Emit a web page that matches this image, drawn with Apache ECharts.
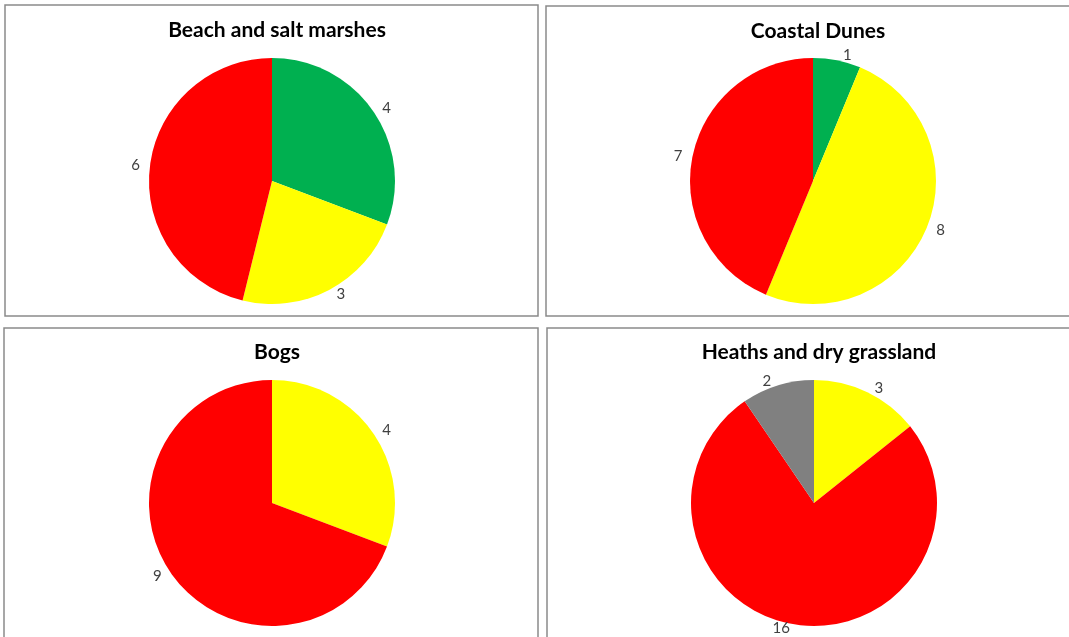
<!DOCTYPE html>
<html><head><meta charset="utf-8">
<script src="https://cdn.jsdelivr.net/npm/echarts@6/dist/echarts.min.js"></script>
<style>html,body{margin:0;padding:0;background:#fff}#c{width:1069px;height:637px}</style>
</head><body><div id="c"></div>
<script>
const titles = ["Beach and salt marshes", "Coastal Dunes", "Bogs", "Heaths and dry grassland"];
const beachValues = [4, 3, 6];
const beachColors = ["#00B050", "#FFFF00", "#FF0000"];
const dunesValues = [1, 8, 7];
const dunesColors = ["#00B050", "#FFFF00", "#FF0000"];
const bogsValues = [4, 9];
const bogsColors = ["#FFFF00", "#FF0000"];
const heathsValues = [3, 16, 2];
const heathsColors = ["#FFFF00", "#FF0000", "#808080"];

const panels = [
  {x:5, y:5, w:533, h:311, cx:272, cy:181, tx:272, ty:15, vals:beachValues, cols:beachColors},
  {x:546, y:6, w:530, h:310, cx:813, cy:181, tx:813, ty:16, vals:dunesValues, cols:dunesColors},
  {x:4, y:328, w:534, h:320, cx:272, cy:503, tx:272, ty:337, vals:bogsValues, cols:bogsColors},
  {x:547, y:328, w:530, h:320, cx:814, cy:503, tx:814, ty:337, vals:heathsValues, cols:heathsColors}
];
const FONT = "Lato, 'Open Sans', sans-serif";
const chart = echarts.init(document.getElementById('c'), null, {renderer:'canvas'});
chart.setOption({
  animation:false,
  title: panels.map((p,i)=>({text:titles[i], left:p.tx, top:p.ty, textAlign:'center',
    textStyle:{fontFamily:FONT, fontWeight:'bold', fontSize:21, color:'#000'}})),
  graphic: panels.map(p=>({type:'rect', shape:{x:p.x, y:p.y, width:p.w, height:p.h}, silent:true,
    style:{fill:'none', stroke:'#8a8a8a', lineWidth:1.5}, z:-1})),
  series: panels.map(p=>({
    type:'pie', center:[p.cx,p.cy], radius:[0,123], startAngle:90, clockwise:true,
    label:{show:true, position:'outside', formatter:'{c}', fontFamily:FONT, fontSize:15, color:'#404040'},
    labelLine:{show:false, length:5, length2:0},
    itemStyle:{borderWidth:0},
    emphasis:{disabled:true},
    data:p.vals.map((v,j)=>({value:v, itemStyle:{color:p.cols[j]}}))
  }))
});
</script></body></html>
